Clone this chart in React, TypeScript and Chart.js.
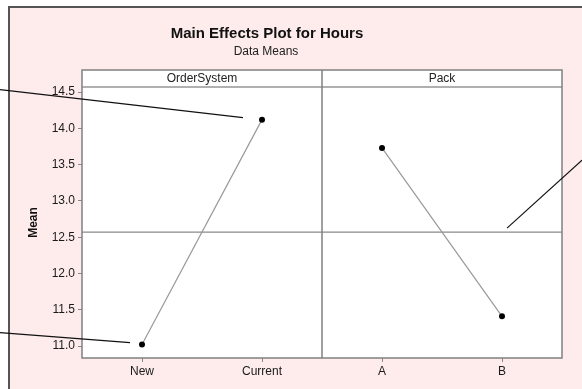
import React, { useEffect, useRef } from "react";
import { Chart, registerables } from "chart.js";
Chart.register(...registerables);

const categories = ["New", "Current", "A", "B"];
const factors = ["OrderSystem", "Pack"];
const orderSystemMeans = [11.02, 14.12];
const packMeans = [13.73, 11.41];
const yTicks = [11.0, 11.5, 12.0, 12.5, 13.0, 13.5, 14.0, 14.5];
const yMin = 10.835;
const yMax = 14.57;
const titleText = "Main Effects Plot for Hours";
const subtitleText = "Data Means";
const yAxisTitle = "Mean";

const allMeans = [...orderSystemMeans, ...packMeans];
const grandMean = allMeans.reduce((s, v) => s + v, 0) / allMeans.length;

const FONT = "'Liberation Sans', Arial, sans-serif";
const HEADER_H = 17;

const decor = {
  id: "decor",
  beforeDraw(chart: any) {
    const { ctx, width, height, chartArea: a } = chart;
    ctx.save();
    ctx.fillStyle = "#ffffff";
    ctx.fillRect(0, 0, width, height);
    ctx.fillStyle = "#fdeceb";
    ctx.fillRect(8, 6, width - 8, height - 6);
    ctx.strokeStyle = "#555555";
    ctx.lineWidth = 2;
    ctx.beginPath();
    ctx.moveTo(9, height);
    ctx.lineTo(9, 7);
    ctx.lineTo(width, 7);
    ctx.stroke();
    const top = a.top - HEADER_H;
    ctx.fillStyle = "#ffffff";
    ctx.fillRect(a.left, top, a.right - a.left, a.bottom - top);
    // titles
    ctx.fillStyle = "#111111";
    ctx.textAlign = "center";
    ctx.textBaseline = "middle";
    ctx.font = "bold 15px " + FONT;
    ctx.fillText(titleText, 267, 34);
    ctx.fillStyle = "#222222";
    ctx.font = "12px " + FONT;
    ctx.fillText(subtitleText, 266, 52);
    ctx.restore();
  },
  beforeDatasetsDraw(chart: any) {
    const { ctx, chartArea: a, scales } = chart;
    const xs = scales.x;
    const ys = scales.y;
    const top = a.top - HEADER_H;
    const divX = (xs.getPixelForValue(1) + xs.getPixelForValue(2)) / 2;
    ctx.save();
    const ry = ys.getPixelForValue(grandMean);
    ctx.strokeStyle = "#8a8a8a";
    ctx.lineWidth = 1.2;
    ctx.beginPath();
    ctx.moveTo(a.left, ry);
    ctx.lineTo(a.right, ry);
    ctx.stroke();
    ctx.strokeStyle = "#b0b0b0";
    ctx.lineWidth = 2;
    ctx.beginPath();
    ctx.moveTo(a.left, a.top);
    ctx.lineTo(a.right, a.top);
    ctx.stroke();
    ctx.strokeStyle = "#808080";
    ctx.lineWidth = 1.5;
    ctx.strokeRect(a.left, top, a.right - a.left, a.bottom - top);
    ctx.beginPath();
    ctx.moveTo(divX, top);
    ctx.lineTo(divX, a.bottom);
    ctx.stroke();
    ctx.fillStyle = "#222222";
    ctx.font = "12px " + FONT;
    ctx.textAlign = "center";
    ctx.textBaseline = "middle";
    ctx.fillText(factors[0], (a.left + divX) / 2, top + HEADER_H / 2 + 0.5);
    ctx.fillText(factors[1], (divX + a.right) / 2, top + HEADER_H / 2 + 0.5);
    ctx.restore();
  },
  afterDraw(chart: any) {
    const { ctx, width, scales } = chart;
    const xs = scales.x;
    const ys = scales.y;
    ctx.save();
    ctx.strokeStyle = "#111111";
    ctx.lineWidth = 1.2;
    const line = (x1: number, y1: number, x2: number, y2: number) => {
      ctx.beginPath();
      ctx.moveTo(x1, y1);
      ctx.lineTo(x2, y2);
      ctx.stroke();
    };
    const cx = xs.getPixelForValue(1);
    const cy = ys.getPixelForValue(orderSystemMeans[1]);
    line(0, cy - 30, cx - 19, cy - 2);
    const nx = xs.getPixelForValue(0);
    const ny = ys.getPixelForValue(orderSystemMeans[0]);
    line(0, ny - 12, nx - 12, ny - 2);
    const ry = ys.getPixelForValue(grandMean);
    line(width, ry - 72, xs.getPixelForValue(3) + 5, ry - 4);
    ctx.restore();
  },
};

export default function App() {
  const ref = useRef<HTMLCanvasElement>(null);
  useEffect(() => {
    const chart = new Chart(ref.current as HTMLCanvasElement, {
      type: "line",
      data: {
        labels: categories,
        datasets: [
          {
            label: factors[0],
            data: [orderSystemMeans[0], orderSystemMeans[1], null, null],
            borderColor: "#999999",
            borderWidth: 1.2,
            pointRadius: 3,
            pointBackgroundColor: "#000000",
            pointBorderWidth: 0,
            spanGaps: false,
          },
          {
            label: factors[1],
            data: [null, null, packMeans[0], packMeans[1]],
            borderColor: "#999999",
            borderWidth: 1.2,
            pointRadius: 3,
            pointBackgroundColor: "#000000",
            pointBorderWidth: 0,
            spanGaps: false,
          },
        ],
      },
      options: {
        responsive: false,
        devicePixelRatio: 1,
        animation: false,
        layout: { padding: { top: 87, right: 20, bottom: 0, left: 0 } },
        plugins: {
          legend: { display: false },
          tooltip: { enabled: false },
          title: { display: false },
          subtitle: { display: false },
        },
        scales: {
          x: {
            type: "category",
            offset: true,
            grid: { drawOnChartArea: false, drawTicks: true, tickLength: 4, color: "#888888" },
            border: { display: false },
            ticks: { color: "#1a1a1a", font: { family: FONT, size: 12 }, padding: 2, maxRotation: 0 },
            afterFit: (s: any) => {
              s.height = 31;
            },
          },
          y: {
            type: "linear",
            min: yMin,
            max: yMax,
            afterBuildTicks: (s: any) => {
              s.ticks = yTicks.map((v) => ({ value: v }));
            },
            grid: { drawOnChartArea: false, drawTicks: true, tickLength: 4, color: "#888888" },
            border: { display: false },
            ticks: {
              color: "#1a1a1a",
              font: { family: FONT, size: 12 },
              padding: 3,
              callback: (v: any) => Number(v).toFixed(1),
            },
            title: {
              display: true,
              text: yAxisTitle,
              color: "#111111",
              font: { family: FONT, size: 12, weight: "bold" },
              padding: { top: 26, bottom: 0 },
            },
            afterFit: (s: any) => {
              s.width = 82;
            },
          },
        },
      },
      plugins: [decor],
    } as any);
    return () => chart.destroy();
  }, []);
  return (
    <div style={{ position: "fixed", left: 0, top: 0, width: 582, height: 389 }}>
      <canvas ref={ref} width={582} height={389} style={{ display: "block", width: 582, height: 389 }} />
    </div>
  );
}
